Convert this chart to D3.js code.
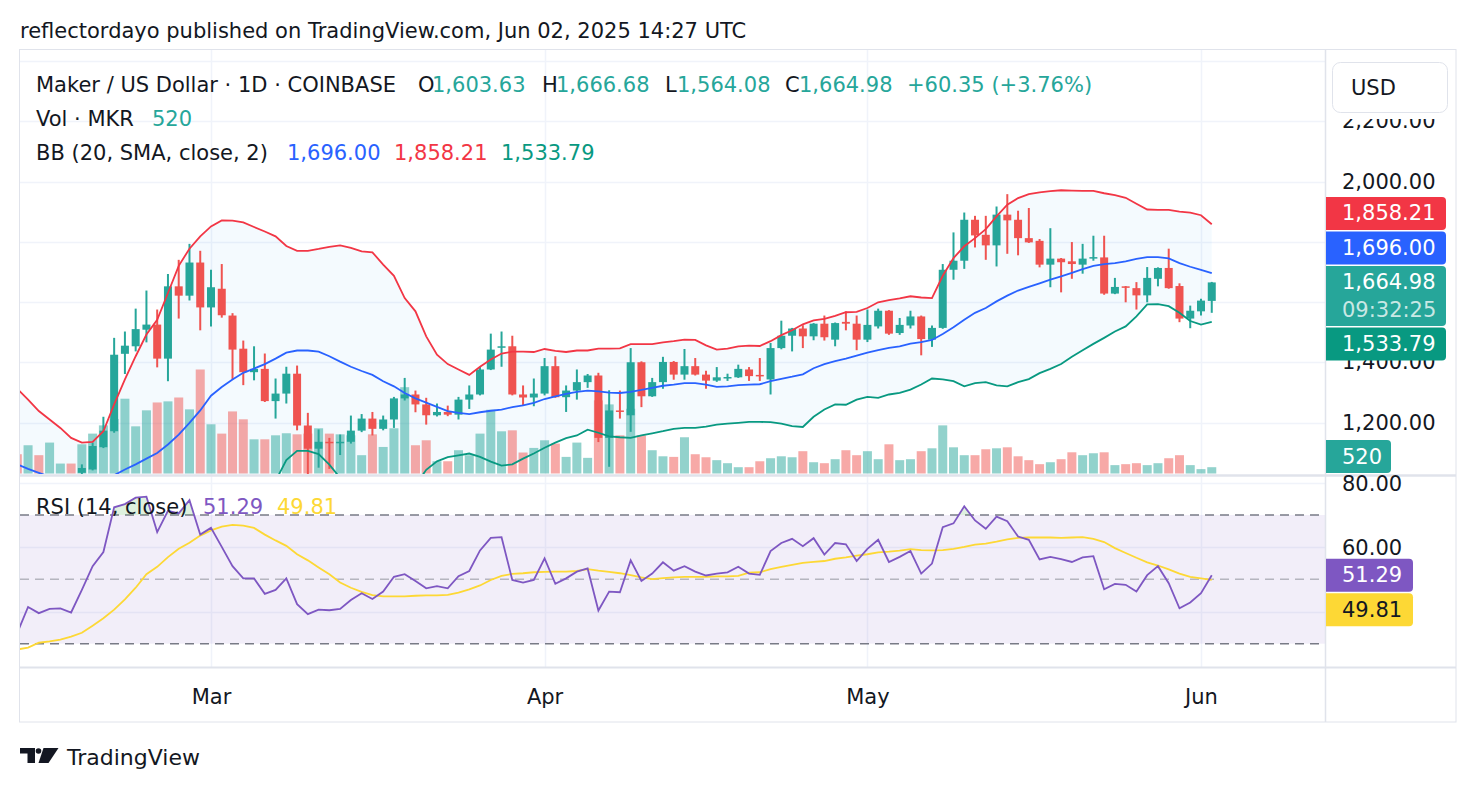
<!DOCTYPE html>
<html>
<head>
<meta charset="utf-8">
<script src="https://cdn.jsdelivr.net/npm/d3@7"></script>
<style>
  body { margin: 0; background: #fff; }
  svg { display: block; font-family: "DejaVu Sans", sans-serif; }
</style>
</head>
<body>
<svg id="chart" width="1476" height="794"></svg>
<script>
// MKR/USD daily, Feb 11 - Jun 2 2025
const firstDay = '2025-02-11'
const lastDay = '2025-06-03'

const opens = [
  1010, 990, 1020, 1002, 1022, 1026, 1033, 1044, 1118, 1171,
  1428, 1453, 1508, 1525, 1412, 1652, 1621, 1731, 1582, 1644,
  1555, 1445, 1367, 1378, 1271, 1296, 1362, 1190, 1113, 1136,
  1133, 1136, 1173, 1213, 1179, 1210, 1280, 1293, 1260, 1224,
  1235, 1226, 1276, 1293, 1376, 1448, 1453, 1293, 1283, 1296,
  1387, 1284, 1306, 1334, 1356, 1149, 1240, 1224, 1400, 1287,
  1334, 1401, 1359, 1387, 1359, 1339, 1348, 1350, 1376, 1358,
  1343, 1447, 1488, 1512, 1486, 1528, 1475, 1534, 1528, 1475,
  1519, 1571, 1497, 1522, 1552, 1475, 1514, 1707, 1737, 1873,
  1823, 1788, 1890, 1873, 1812, 1803, 1724, 1744, 1735, 1724,
  1746, 1748, 1628, 1652, 1646, 1622, 1677, 1713, 1653, 1545,
  1569, 1603.63
]
const highs = [
  1025, 1028, 1027, 1026, 1028, 1028, 1061, 1133, 1219, 1481,
  1502, 1578, 1638, 1575, 1693, 1740, 1793, 1770, 1707, 1726,
  1563, 1472, 1453, 1429, 1346, 1385, 1389, 1232, 1177, 1149,
  1160, 1223, 1228, 1235, 1223, 1285, 1348, 1306, 1282, 1263,
  1256, 1285, 1323, 1384, 1495, 1502, 1488, 1323, 1346, 1414,
  1420, 1323, 1376, 1361, 1365, 1307, 1306, 1447, 1403, 1348,
  1418, 1404, 1444, 1414, 1372, 1384, 1362, 1392, 1384, 1414,
  1464, 1538, 1514, 1523, 1530, 1555, 1532, 1569, 1555, 1575,
  1578, 1573, 1547, 1571, 1555, 1522, 1726, 1831, 1897, 1886,
  1886, 1917, 1958, 1903, 1912, 1809, 1845, 1746, 1799, 1793,
  1820, 1820, 1680, 1653, 1666, 1716, 1715, 1777, 1662, 1588,
  1611, 1666.68
]
const lows = [
  975, 978, 992, 995, 1005, 1000, 1010, 1041, 1115, 1166,
  1361, 1436, 1466, 1383, 1337, 1545, 1605, 1506, 1519, 1548,
  1343, 1324, 1340, 1268, 1213, 1263, 1174, 1015, 1050, 1046,
  1092, 1130, 1168, 1157, 1174, 1182, 1273, 1234, 1193, 1220,
  1221, 1210, 1245, 1290, 1374, 1385, 1290, 1257, 1254, 1290,
  1282, 1235, 1276, 1315, 1135, 1053, 1213, 1169, 1251, 1285,
  1312, 1342, 1342, 1356, 1312, 1335, 1338, 1348, 1338, 1338,
  1293, 1443, 1436, 1447, 1473, 1472, 1453, 1506, 1440, 1467,
  1512, 1491, 1491, 1512, 1423, 1451, 1511, 1674, 1710, 1781,
  1740, 1718, 1760, 1755, 1796, 1715, 1649, 1632, 1677, 1694,
  1737, 1624, 1626, 1599, 1575, 1599, 1652, 1644, 1533, 1513,
  1555, 1564.08
]
const closes = [
  990, 1020, 1002, 1022, 1026, 1015, 1049, 1122, 1173, 1425,
  1455, 1510, 1525, 1412, 1652, 1621, 1731, 1582, 1649, 1556,
  1442, 1367, 1378, 1271, 1296, 1362, 1190, 1113, 1136, 1134,
  1136, 1173, 1213, 1179, 1210, 1280, 1293, 1260, 1224, 1235,
  1226, 1276, 1293, 1376, 1442, 1453, 1293, 1283, 1296, 1387,
  1284, 1306, 1334, 1356, 1149, 1240, 1236, 1400, 1287, 1334,
  1401, 1359, 1387, 1359, 1339, 1350, 1351, 1378, 1354, 1354,
  1447, 1488, 1512, 1486, 1528, 1483, 1530, 1528, 1475, 1524,
  1571, 1495, 1524, 1552, 1477, 1514, 1707, 1737, 1873, 1821,
  1788, 1890, 1871, 1812, 1798, 1724, 1744, 1732, 1726, 1744,
  1749, 1628, 1650, 1647, 1622, 1680, 1713, 1646, 1545, 1571,
  1604.63, 1664.98
]
const volumes = [
  1590, 2330, 1510, 2550, 820, 820, 2410, 3290, 3970, 4500,
  6170, 3890, 5210, 5860, 5950, 6270, 5290, 8580, 4060, 3290,
  5120, 4470, 2820, 2820, 3150, 3320, 3230, 3290, 3730, 3290,
  3230, 3150, 1510, 3230, 2190, 3730, 7120, 2330, 2740, 1010,
  1010, 1920, 1510, 3290, 5260, 3480, 3560, 1730, 2110, 2740,
  2470, 1370, 2550, 1290, 6030, 5700, 3150, 5340, 3150, 1920,
  1420, 1370, 2990, 1590, 1340, 1100, 850, 520, 520, 1010,
  1260, 1420, 1340, 1840, 930, 850, 1180, 1920, 1510, 1840,
  1180, 2410, 1100, 1180, 1840, 2080, 3970, 2160, 1510, 1510,
  2000, 2080, 2160, 1420, 1100, 770, 930, 1180, 1750, 1510,
  1670, 1750, 690, 770, 850, 690, 850, 1260, 1510, 690,
  360, 520
]
// Bollinger Bands (20, SMA, close, 2)
const bbUpper = [
  1312, 1276, 1238, 1210, 1182, 1149, 1133, 1136, 1171, 1260,
  1343, 1420, 1492, 1541, 1630, 1720, 1777, 1818, 1851, 1871,
  1870, 1864, 1849, 1834, 1818, 1786, 1770, 1770, 1776, 1783,
  1788, 1780, 1768, 1765, 1724, 1687, 1613, 1569, 1486, 1425,
  1394, 1376, 1358, 1385, 1409, 1429, 1435, 1435, 1434, 1444,
  1438, 1434, 1439, 1439, 1445, 1445, 1446, 1460, 1460, 1460,
  1466, 1470, 1475, 1474, 1456, 1442, 1445, 1453, 1455, 1454,
  1470, 1490, 1506, 1526, 1539, 1544, 1554, 1566, 1567, 1580,
  1599, 1606, 1612, 1619, 1615, 1613, 1687, 1746, 1785, 1812,
  1842, 1884, 1923, 1945, 1958, 1964, 1968, 1971, 1970, 1969,
  1969, 1961, 1955, 1946, 1926, 1907, 1906, 1906, 1900, 1897,
  1888, 1858.21
]
const bbBasis = [
  1061, 1046, 1033, 1020, 1010, 1005, 1003, 1005, 1012, 1025,
  1044, 1061, 1080, 1099, 1127, 1160, 1199, 1240, 1289, 1318,
  1343, 1365, 1379, 1394, 1412, 1432, 1439, 1439, 1435, 1420,
  1402, 1385, 1371, 1358, 1337, 1320, 1298, 1280, 1266, 1252,
  1238, 1232, 1228, 1234, 1239, 1243, 1251, 1257, 1265, 1278,
  1287, 1295, 1302, 1306, 1303, 1299, 1298, 1302, 1308, 1315,
  1322, 1326, 1331, 1331, 1326, 1318, 1320, 1324, 1326, 1327,
  1337, 1345, 1352, 1360, 1380, 1394, 1404, 1412, 1422, 1432,
  1440, 1448, 1453, 1462, 1467, 1474, 1494, 1516, 1541, 1564,
  1580, 1602, 1621, 1638, 1650, 1662, 1674, 1685, 1697, 1709,
  1720, 1726, 1729, 1735, 1743, 1749, 1749, 1745, 1729, 1717,
  1707, 1696.00
]
const bbLower = [
  810, 816, 828, 830, 838, 861, 873, 874, 853, 790,
  745, 702, 668, 657, 624, 600, 621, 662, 727, 765,
  816, 866, 909, 954, 1006, 1075, 1106, 1106, 1095, 1060,
  1016, 990, 974, 951, 950, 953, 983, 991, 1043, 1071,
  1085, 1091, 1097, 1086, 1070, 1057, 1061, 1080, 1097, 1116,
  1133, 1148, 1157, 1176, 1166, 1154, 1151, 1149, 1157, 1164,
  1171, 1179, 1182, 1182, 1186, 1193, 1196, 1199, 1202, 1202,
  1201, 1196, 1188, 1185, 1219, 1243, 1260, 1259, 1276, 1285,
  1282, 1293, 1298, 1309, 1326, 1346, 1343, 1337, 1320, 1331,
  1334, 1323, 1320, 1334, 1344, 1364, 1378, 1394, 1418, 1440,
  1461, 1481, 1502, 1519, 1552, 1592, 1593, 1586, 1564, 1537,
  1525, 1533.79
]
// RSI (14, close) and its moving average
const rsi = [
  33.4, 41.4, 39.5, 40.8, 41.0, 39.7, 46.7, 54.1, 58.5, 72.4,
  73.4, 75.4, 75.7, 64.7, 71.3, 70.5, 74.6, 63.9, 66.0, 60.1,
  54.1, 50.3, 50.3, 45.5, 46.7, 50.3, 42.3, 39.2, 40.6, 40.4,
  40.8, 43.6, 45.7, 43.9, 46.2, 50.8, 51.6, 49.5, 47.2, 47.9,
  47.2, 51.0, 52.6, 59.0, 62.9, 63.1, 49.8, 49.0, 49.8, 56.5,
  48.6, 50.3, 52.4, 53.4, 40.3, 46.2, 46.0, 55.9, 49.5, 51.8,
  55.3, 52.7, 54.1, 52.4, 51.2, 51.8, 52.2, 53.9, 51.8, 51.4,
  58.8, 61.3, 62.6, 60.3, 62.8, 57.7, 61.3, 60.9, 55.7, 59.5,
  62.3, 55.4, 57.0, 58.8, 51.8, 54.9, 66.2, 67.4, 72.7, 68.3,
  65.7, 69.5, 68.1, 63.3, 62.3, 56.2, 57.0, 56.3, 55.4, 56.8,
  57.2, 46.9, 48.6, 48.3, 46.2, 51.3, 54.1, 48.8, 41.0, 42.8,
  45.7, 51.29
]
const rsiMa = [
  28.2, 28.8, 30.3, 30.7, 31.3, 32.2, 33.4, 35.6, 37.9, 40.6,
  43.8, 47.4, 51.6, 53.9, 56.9, 59.5, 61.4, 63.6, 65.2, 66.4,
  66.9, 66.7, 66.0, 63.9, 62.1, 60.4, 57.8, 55.9, 53.7, 51.6,
  49.0, 47.4, 46.1, 45.1, 44.7, 44.7, 44.7, 44.9, 45.0, 45.0,
  45.2, 45.9, 46.9, 48.1, 49.8, 51.1, 51.7, 51.9, 52.2, 52.3,
  52.4, 52.4, 52.6, 53.2, 52.7, 52.3, 51.9, 51.3, 50.6, 50.1,
  50.4, 50.6, 50.8, 50.8, 50.8, 50.9, 50.9, 51.1, 52.1, 52.2,
  53.2, 53.9, 54.5, 55.1, 55.4, 55.7, 56.4, 56.8, 57.4, 57.8,
  58.4, 58.6, 58.9, 59.4, 59.1, 59.0, 59.1, 59.5, 60.1, 60.8,
  61.1, 61.7, 62.4, 62.9, 63.0, 63.0, 63.0, 62.9, 63.0, 63.1,
  62.6, 61.6, 59.7, 58.2, 56.7, 55.3, 54.3, 53.1, 51.8, 50.8,
  50.3, 49.81
]

const priceTicks = [1200, 1400, 1600, 1800, 2000, 2200]
const priceGrid = [1200, 1400, 1600, 1800, 2000, 2200, 2400]
const rsiTicks = [40, 60, 80]
const rsiLevels = [70, 50, 30]
const monthTicks = ['2025-03-01', '2025-04-01', '2025-05-01', '2025-06-01']

// colours
const UP = '#26a69a', DOWN = '#ef5350'
const TXT = '#131722', GRID = '#f0f3fa', BORDER = '#e0e3eb'

const days = d3.utcDay.range(new Date(firstDay), new Date(lastDay))
const bars = days.map((d, i) => ({
  date: d, o: opens[i], h: highs[i], l: lows[i], c: closes[i], v: volumes[i],
  up: bbUpper[i], mid: bbBasis[i], lo: bbLower[i], rsi: rsi[i], ma: rsiMa[i]
}))

// layout
const paneL = 20, paneR = 1325, frameR = 1456
const priceTop = 50, priceBot = 474
const rsiTop = 477, rsiBot = 667
const frameBot = 722

const svg = d3.select('#chart')

const x = d3.scaleUtc()
  .domain([new Date('2025-03-01'), new Date('2025-06-01')])
  .range([211, 1201])
const yP = d3.scaleLinear().domain([1200, 2000]).range([422.5, 181.5])
const yV = d3.scaleLinear().domain([0, d3.max(volumes)]).range([473.5, 369.5])
const yR = d3.scaleLinear().domain([30, 70]).range([643.7, 515])

const defs = svg.append('defs')
defs.append('clipPath').attr('id', 'clipP')
  .append('rect').attr('x', paneL).attr('y', priceTop)
  .attr('width', paneR - paneL).attr('height', priceBot - priceTop)
defs.append('clipPath').attr('id', 'clipR')
  .append('rect').attr('x', paneL).attr('y', rsiTop)
  .attr('width', paneR - paneL).attr('height', rsiBot - rsiTop)
defs.append('clipPath').attr('id', 'clipOB')
  .append('rect').attr('x', paneL).attr('y', rsiTop)
  .attr('width', paneR - paneL).attr('height', yR(70) - rsiTop)

// title
svg.append('text')
  .attr('x', 20).attr('y', 31).attr('dominant-baseline', 'central')
  .attr('fill', TXT).style('font-size', '21px')
  .text('reflectordayo published on TradingView.com, Jun 02, 2025 14:27 UTC')

// grids --------------------------------------------------------------
const grid = svg.append('g')
grid.selectAll('.hp').data(priceGrid).join('line')
  .attr('x1', paneL).attr('x2', paneR)
  .attr('y1', d => Math.round(yP(d)) + 0.5).attr('y2', d => Math.round(yP(d)) + 0.5)
  .attr('stroke', GRID).attr('stroke-width', 1.5)
grid.selectAll('.hr').data(rsiTicks).join('line')
  .attr('x1', paneL).attr('x2', paneR)
  .attr('y1', d => Math.round(yR(d)) + 0.5).attr('y2', d => Math.round(yR(d)) + 0.5)
  .attr('stroke', GRID).attr('stroke-width', 1.5)
grid.selectAll('.v').data(monthTicks).join('line')
  .attr('x1', d => Math.round(x(new Date(d))) + 0.5).attr('x2', d => Math.round(x(new Date(d))) + 0.5)
  .attr('y1', priceTop).attr('y2', rsiBot)
  .attr('stroke', GRID).attr('stroke-width', 1.5)

// price pane ---------------------------------------------------------
const pp = svg.append('g').attr('clip-path', 'url(#clipP)')

pp.append('path').datum(bars)
  .attr('d', d3.area().x(d => x(d.date)).y0(d => yP(d.lo)).y1(d => yP(d.up)))
  .attr('fill', 'rgba(33,150,243,0.05)')

const bw = 9
pp.selectAll('.vol').data(bars).join('rect')
  .attr('x', d => x(d.date) - bw / 2).attr('width', bw)
  .attr('y', d => yV(d.v)).attr('height', d => yV(0) - yV(d.v))
  .attr('fill', d => d.c >= d.o ? 'rgba(38,166,154,0.5)' : 'rgba(239,83,80,0.5)')

const cw = 8
const candles = pp.selectAll('.candle').data(bars).join('g')
candles.append('line')
  .attr('x1', d => x(d.date)).attr('x2', d => x(d.date))
  .attr('y1', d => yP(d.h)).attr('y2', d => yP(d.l))
  .attr('stroke', d => d.c >= d.o ? UP : DOWN).attr('stroke-width', 2)
candles.append('rect')
  .attr('x', d => x(d.date) - cw / 2).attr('width', cw)
  .attr('y', d => yP(Math.max(d.o, d.c)))
  .attr('height', d => Math.max(1.5, Math.abs(yP(d.o) - yP(d.c))))
  .attr('fill', d => d.c >= d.o ? UP : DOWN)

const bbLine = key => d3.line().x(d => x(d.date)).y(d => yP(d[key]))
pp.append('path').datum(bars).attr('d', bbLine('up'))
  .attr('fill', 'none').attr('stroke', '#f23645').attr('stroke-width', 1.8)
pp.append('path').datum(bars).attr('d', bbLine('mid'))
  .attr('fill', 'none').attr('stroke', '#2962ff').attr('stroke-width', 1.8)
pp.append('path').datum(bars).attr('d', bbLine('lo'))
  .attr('fill', 'none').attr('stroke', '#089981').attr('stroke-width', 1.8)

// RSI pane -----------------------------------------------------------
const rp = svg.append('g').attr('clip-path', 'url(#clipR)')
rp.append('rect')
  .attr('x', paneL).attr('width', paneR - paneL)
  .attr('y', yR(70)).attr('height', yR(30) - yR(70))
  .attr('fill', 'rgba(126,87,194,0.1)')
rp.selectAll('.lvl').data(rsiLevels).join('line')
  .attr('x1', paneL).attr('x2', paneR)
  .attr('y1', d => yR(d)).attr('y2', d => yR(d))
  .attr('stroke', d => d === 50 ? 'rgba(120,123,134,0.5)' : '#787b86')
  .attr('stroke-width', 1.5).attr('stroke-dasharray', '9,6')

// overbought fill
rp.append('path').datum(bars)
  .attr('clip-path', 'url(#clipOB)')
  .attr('d', d3.area().x(d => x(d.date)).y0(yR(70)).y1(d => yR(d.rsi)))
  .attr('fill', 'rgba(76,175,80,0.18)')

rp.append('path').datum(bars)
  .attr('d', d3.line().x(d => x(d.date)).y(d => yR(d.ma)))
  .attr('fill', 'none').attr('stroke', '#fdd835').attr('stroke-width', 1.8)
rp.append('path').datum(bars)
  .attr('d', d3.line().x(d => x(d.date)).y(d => yR(d.rsi)))
  .attr('fill', 'none').attr('stroke', '#7e57c2').attr('stroke-width', 1.8)

// frame & separators -------------------------------------------------
const frame = svg.append('g').attr('fill', 'none').attr('stroke', BORDER)
frame.append('rect').attr('x', 19.5).attr('y', 49.5)
  .attr('width', frameR - 19.5).attr('height', frameBot - 49.5).attr('stroke-width', 1)
frame.append('line').attr('x1', 20).attr('x2', frameR).attr('y1', 475.5).attr('y2', 475.5).attr('stroke-width', 2.5)
frame.append('line').attr('x1', 20).attr('x2', frameR).attr('y1', 667.5).attr('y2', 667.5).attr('stroke-width', 2)
frame.append('line').attr('x1', paneR + 0.5).attr('x2', paneR + 0.5).attr('y1', 50).attr('y2', frameBot).attr('stroke-width', 1.5)

// time axis
const xAxis = d3.axisBottom(x)
  .tickValues(monthTicks.map(d => new Date(d)))
  .tickFormat(d3.utcFormat('%b')).tickSize(0)
const xg = svg.append('g').attr('transform', `translate(0,${rsiBot})`).call(xAxis)
xg.select('.domain').remove()
xg.selectAll('text').attr('dy', null).attr('y', 30).attr('dominant-baseline', 'central')
  .attr('fill', TXT).style('font-size', '21px').style('font-family', '"DejaVu Sans", sans-serif')

// value tags (stacked to avoid overlap, like TradingView)
const last = bars[bars.length - 1]
const prev = bars[bars.length - 2]
const fmt = d3.format(',.2f')
const closeTop = yP(last.c) - 16.5
const closeBot = closeTop + 60
const blueBot = Math.min(yP(last.mid) + 16.5, closeTop - 1.5)
const redBot = Math.min(yP(last.up) + 16.5, blueBot - 33 - 1.5)
const lowTop = Math.max(yP(last.lo) - 16.5, closeBot + 1.5)
const tagBoxes = [[redBot - 33, redBot], [blueBot - 33, blueBot], [closeTop, closeBot], [lowTop, lowTop + 33]]

// price & rsi axis labels (labels fully under a tag are not drawn)
const axT = svg.append('g').style('font-size', '21px').attr('fill', TXT)
axT.selectAll('.pl')
  .data(priceTicks.filter(v => !tagBoxes.some(([a, b]) => yP(v) - 8 > a && yP(v) + 8 < b)))
  .join('text')
  .attr('x', 1342).attr('y', d => yP(d)).attr('dominant-baseline', 'central')
  .text(d => fmt(d))
axT.selectAll('.rl').data([60, 80]).join('text')
  .attr('x', 1342).attr('y', d => yR(d) + 1).attr('dominant-baseline', 'central')
  .text(d => d3.format('.2f')(d))

function tag(y0, y1, w, color, lines, txtColor) {
  const g = svg.append('g')
  g.append('path')
    .attr('d', `M1326,${y0} H${1326 + w - 4} Q${1326 + w},${y0} ${1326 + w},${y0 + 4} V${y1 - 4} Q${1326 + w},${y1} ${1326 + w - 4},${y1} H1326 Z`)
    .attr('fill', color)
  lines.forEach((t, i) => {
    g.append('text').attr('x', 1342).attr('y', y0 + 16.5 + i * 28)
      .attr('dominant-baseline', 'central').style('font-size', '21px')
      .attr('fill', i === 0 ? (txtColor || '#fff') : 'rgba(255,255,255,0.75)')
      .text(t)
  })
}
tag(redBot - 33, redBot, 120, '#f23645', [fmt(last.up)])
tag(blueBot - 33, blueBot, 120, '#2962ff', [fmt(last.mid)])
tag(closeTop, closeBot, 120, UP, [fmt(last.c), '09:32:25'])
tag(lowTop, lowTop + 33, 120, '#089981', [fmt(last.lo)])
const volBot = Math.min(yV(last.v) + 16.5, 473)
tag(volBot - 33, volBot, 65, UP, [d3.format(',')(last.v)])
const rsiTagTop = yR(last.rsi) - 16.5
tag(rsiTagTop, rsiTagTop + 33, 87, '#7e57c2', [last.rsi.toFixed(2)])
tag(rsiTagTop + 34.5, rsiTagTop + 67.5, 87, '#fdd835', [last.ma.toFixed(2)], TXT)

// currency button (its backdrop hides the top of the 2,200 label)
svg.append('rect').attr('x', 1327).attr('y', 51).attr('width', 128).attr('height', 68)
  .attr('fill', '#fff')
svg.append('rect').attr('x', 1332.5).attr('y', 62.5).attr('width', 115).attr('height', 50)
  .attr('rx', 8).attr('fill', '#fff').attr('stroke', BORDER)
svg.append('text').attr('x', 1351).attr('y', 88).attr('dominant-baseline', 'central')
  .attr('fill', TXT).style('font-size', '21px').text('USD')

// legends ------------------------------------------------------------
const leg = svg.append('g').style('font-size', '21px')
function legText(xp, yp, t, c) {
  leg.append('text').attr('x', xp).attr('y', yp).attr('dominant-baseline', 'central')
    .attr('fill', c).text(t)
}
const chg = last.c - prev.c
legText(36, 85, 'Maker / US Dollar · 1D · COINBASE', TXT)
legText(418, 85, 'O', TXT); legText(432, 85, fmt(last.o), UP)
legText(542, 85, 'H', TXT); legText(556, 85, fmt(last.h), UP)
legText(665, 85, 'L', TXT); legText(677, 85, fmt(last.l), UP)
legText(785, 85, 'C', TXT); legText(799, 85, fmt(last.c), UP)
legText(907, 85, `+${chg.toFixed(2)} (+${(chg / prev.c * 100).toFixed(2)}%)`, UP)
legText(36, 119, 'Vol · MKR', TXT); legText(152, 119, String(last.v), UP)
legText(36, 153, 'BB (20, SMA, close, 2)', TXT)
legText(287, 153, fmt(last.mid), '#2962ff')
legText(394, 153, fmt(last.up), '#f23645')
legText(501, 153, fmt(last.lo), '#089981')
legText(36, 507, 'RSI (14, close)', TXT)
legText(203, 507, last.rsi.toFixed(2), '#7e57c2')
legText(277, 507, last.ma.toFixed(2), '#fdd835')

// footer logo
const logo = svg.append('g').attr('fill', TXT)
logo.append('path').attr('d', 'M20,748 H35 V763 H27.5 V753.5 H20 Z')
logo.append('circle').attr('cx', 38.5).attr('cy', 751).attr('r', 2.8)
logo.append('path').attr('d', 'M43.5,748 H58.5 L48.5,763 H38.5 Z')
svg.append('text').attr('x', 67).attr('y', 757).attr('dominant-baseline', 'central')
  .attr('fill', TXT).style('font-size', '22px').text('TradingView')
</script>
</body>
</html>
